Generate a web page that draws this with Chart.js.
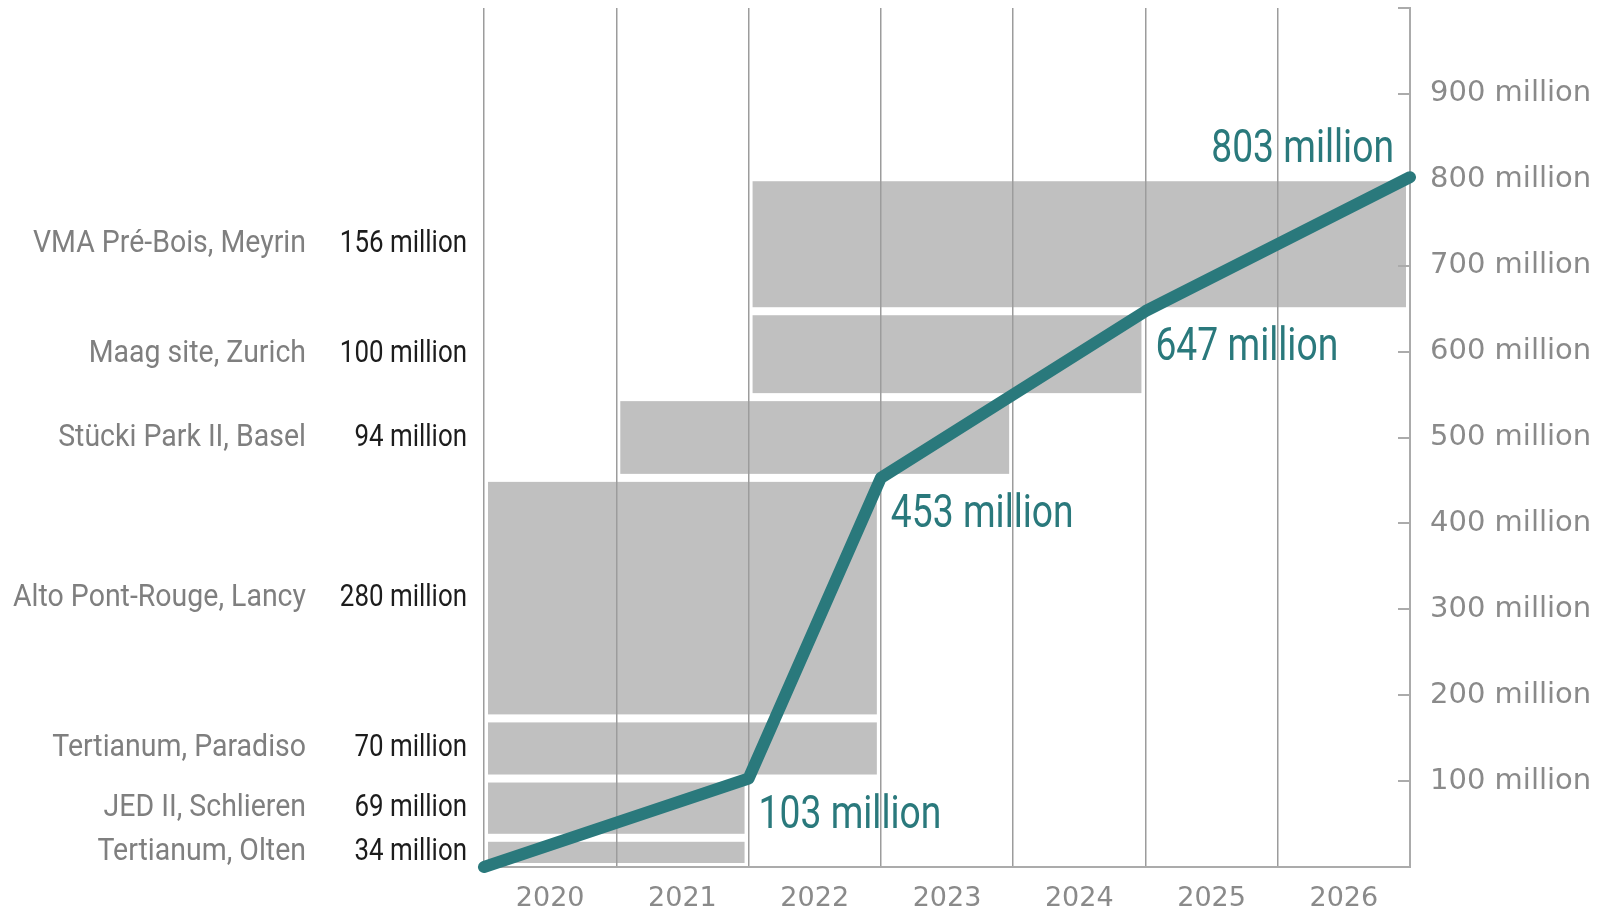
<!DOCTYPE html>
<html>
<head>
<meta charset="utf-8">
<title>Project pipeline</title>
<script src="https://cdn.jsdelivr.net/npm/chart.js@4/dist/chart.umd.min.js"></script>
<style>
  html, body { margin: 0; padding: 0; background: #fff; }
  #wrap { position: relative; width: 1599px; height: 911px; }
</style>
</head>
<body>
<div id="wrap"><canvas id="pipeline-chart"></canvas></div>
<script>
/* ============================================================
   Project pipeline — stacked project blocks + cumulative line
   ============================================================ */
(function () {
  'use strict';

  /* ---- data (bottom to top) ---- */
  var YEARS = [2020, 2021, 2022, 2023, 2024, 2025, 2026];
  var PROJECTS = ['Tertianum, Olten', 'JED II, Schlieren', 'Tertianum, Paradiso', 'Alto Pont-Rouge, Lancy', 'Stücki Park II, Basel', 'Maag site, Zurich', 'VMA Pré-Bois, Meyrin'];
  var VALUES = [34, 69, 70, 280, 94, 100, 156];
  var START_YEAR = [2020, 2020, 2020, 2020, 2021, 2022, 2022];
  var END_YEAR = [2021, 2021, 2022, 2022, 2023, 2024, 2026];

  /* cumulative line, x = year boundary (end of year) */
  var LINE_X = [2019.5, 2021.5, 2022.5, 2024.5, 2026.5];
  var LINE_Y = [0, 103, 453, 647, 803];
  var LINE_LABELS = ['', '103 million', '453 million', '647 million', '803 million'];

  var Y_TICKS_MAX = 1000;

  var TEAL = '#2a797c';
  var BLOCK = '#c0c0c0';
  var GRID = '#9c9c9c';
  var AXIS = '#ababab';
  var WIDE = '"DejaVu Sans", sans-serif';

  /* bottom / top value of each block */
  var bottoms = [], tops = [];
  var acc = 0;
  VALUES.forEach(function (v) { bottoms.push(acc); acc += v; tops.push(acc); });

  /* condensed look: Roboto squeezed horizontally */
  function narrowText(ctx, text, x, y, sx) {
    ctx.save();
    ctx.translate(x, y);
    ctx.scale(sx, 1);
    ctx.fillText(text, 0, 0);
    ctx.restore();
  }

  /* grey blocks under the grid, plus the labels on the left */
  var blocksPlugin = {
    id: 'projectBlocks',
    beforeDraw: function (chart) {
      var ctx = chart.ctx, xs = chart.scales.x, ys = chart.scales.y;
      var inset = 4;
      ctx.save();
      ctx.fillStyle = BLOCK;
      for (var i = 0; i < VALUES.length; i++) {
        var x0 = xs.getPixelForValue(START_YEAR[i] - 0.5) + inset;
        var x1 = xs.getPixelForValue(END_YEAR[i] + 0.5) - inset;
        var y0 = ys.getPixelForValue(tops[i]) + inset;
        var y1 = ys.getPixelForValue(bottoms[i]) - inset;
        ctx.fillRect(x0, y0, x1 - x0, y1 - y0);
      }

      ctx.textBaseline = 'middle';
      ctx.textAlign = 'right';
      ctx.font = '32px Roboto, sans-serif';
      for (var j = 0; j < PROJECTS.length; j++) {
        var yc = (ys.getPixelForValue(tops[j]) + ys.getPixelForValue(bottoms[j])) / 2;
        ctx.fillStyle = '#7f7f7f';
        narrowText(ctx, PROJECTS[j], 306, yc, 0.89);
        ctx.fillStyle = '#1c1c1c';
        narrowText(ctx, VALUES[j] + ' million', 467, yc, 0.81);
      }
      ctx.restore();
    }
  };

  /* teal value labels next to the line's break points */
  var lineLabelsPlugin = {
    id: 'lineLabels',
    afterDatasetsDraw: function (chart) {
      var ctx = chart.ctx;
      var pts = chart.getDatasetMeta(0).data;
      ctx.save();
      ctx.fillStyle = TEAL;
      ctx.font = '46px Roboto, sans-serif';
      ctx.textBaseline = 'alphabetic';
      pts.forEach(function (p, i) {
        if (!LINE_LABELS[i]) return;
        if (i === pts.length - 1) {
          ctx.textAlign = 'right';
          narrowText(ctx, LINE_LABELS[i], p.x - 16, p.y - 15, 0.81);
        } else {
          ctx.textAlign = 'left';
          narrowText(ctx, LINE_LABELS[i], p.x + 10, p.y + 49, 0.81);
        }
      });
      ctx.restore();
    }
  };

  new Chart(document.getElementById('pipeline-chart'), {
    type: 'line',
    data: {
      datasets: [{
        label: 'Cumulative',
        data: LINE_X.map(function (x, i) { return { x: x, y: LINE_Y[i] }; }),
        borderColor: TEAL,
        borderWidth: 12,
        borderCapStyle: 'round',
        borderJoinStyle: 'round',
        pointRadius: 0,
        tension: 0,
        fill: false,
        clip: false
      }]
    },
    options: {
      responsive: true,
      maintainAspectRatio: false,
      animation: false,
      events: [],
      layout: { padding: { left: 484, top: 8, right: 0, bottom: 0 } },
      plugins: { legend: { display: false }, tooltip: { enabled: false } },
      scales: {
        x: {
          type: 'linear',
          min: YEARS[0] - 0.5,
          max: YEARS[YEARS.length - 1] + 0.5,
          afterBuildTicks: function (s) { s.ticks = YEARS.map(function (y) { return { value: y }; }); },
          afterFit: function (s) { s.height = 44; s.paddingLeft = 0; s.paddingRight = 0; },
          grid: { offset: true, color: GRID, lineWidth: 1.5, drawTicks: false },
          border: { color: AXIS, width: 2 },
          ticks: {
            autoSkip: false,
            maxRotation: 0,
            padding: 16,
            color: '#8a8a8a',
            font: { family: WIDE, size: 27 },
            callback: function (v) { return String(v); }
          }
        },
        y: {
          position: 'right',
          min: 0,
          max: Y_TICKS_MAX,
          afterFit: function (s) { s.width = 189; s.paddingTop = 0; s.paddingBottom = 0; },
          grid: { drawOnChartArea: false, drawTicks: true, tickLength: -12, color: AXIS, lineWidth: 2 },
          border: { color: AXIS, width: 2 },
          ticks: {
            stepSize: 100,
            padding: 32,
            color: '#8a8a8a',
            font: { family: WIDE, size: 29 },
            callback: function (v) { return (v === 0 || v === Y_TICKS_MAX) ? '' : v + ' million'; }
          }
        }
      }
    },
    plugins: [blocksPlugin, lineLabelsPlugin]
  });
}());
</script>
</body>
</html>
